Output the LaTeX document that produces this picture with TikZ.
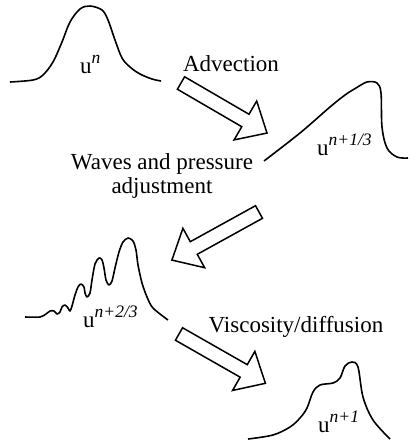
\documentclass[tikz,border=0pt]{standalone}
\usepackage{fontspec}
\setmainfont{Liberation Serif}
\usepackage{tikz}
\usetikzlibrary{calc}
\newcommand{\usup}[1]{u\raisebox{0.4em}{\fontsize{17.5}{18}\selectfont\itshape #1}}
\tikzset{
	curve/.style={line width=1.6pt, line join=round, smooth, tension=0.55},
	lbl/.style={font=\fontsize{23}{24}\selectfont, inner sep=0pt},
	blockarrow/.pic={
		\draw[line width=1.5pt, line join=miter] (0,7.2) -- (74.5,7.2) -- (74.5,22.5) -- (99.5,0)
			-- (74.5,-22.5) -- (74.5,-7.2) -- (0,-7.2) -- cycle;
	}
}

\begin{document}
\begin{tikzpicture}[x=1pt, y=-1pt]
		\useasboundingbox (0,0) rectangle (409,445);
		% the four profiles
		\draw[curve] plot coordinates {(10,82) (33,80) (43,75) (53,62) (62,42) (70,22) (80,9) (90,6) (102,10) (108,20) (115,40) (122,58) (130,67) (140,74) (152,79) (161,81)};
		\draw[curve] plot coordinates {(264,161) (300,133) (330,107) (345,95) (356,88) (367,82) (377,83) (381,93) (382,127) (387,148) (397,157) (408,158)};
		\draw[curve, tension=0.5] plot coordinates {(25,317) (40,317) (46,314) (50,311) (54,311) (57,314) (60,312) (62,307) (65,305) (68,308) (70,311) (72,306) (75,295) (78,287) (81,284) (84,287) (85,293) (87,297) (90,293) (92,280) (95,264) (99,258) (102,260) (104,268) (106,280) (109,285) (112,281) (115,268) (119,252) (123,242) (128,238) (133,241) (136,250) (138,265) (142,283) (147,297) (153,308) (168,320)};
		\draw[curve] plot coordinates {(248,439) (273,435) (290,427) (300,418) (307,408) (313,392) (320,385) (333,383) (340,378) (345,366) (352,362) (358,367) (363,397) (373,420) (390,439)};
		% labels
		\node[lbl, anchor=base west] (un) at (80,73) {\usup{n}};
		\node[lbl, anchor=base west] (un1) at (317,155) {\usup{n+1/3}};
		\node[lbl, anchor=base west] (un2) at (83,327) {\usup{n+2/3}};
		\node[lbl, anchor=base west] (un3) at (318,432) {\usup{n+1}};
		\node[lbl, anchor=base] (adv) at (231,71) {Advection};
		\node[lbl, anchor=base, align=center] (waves) at (162,193) {Waves and pressure\\adjustment};
		\node[lbl, anchor=base] (visc) at (296,332) {Viscosity/diffusion};
		% arrows
		\coordinate (advtail) at (181,83);
		\coordinate (wavtail) at (259,212);
		\coordinate (visctail) at (179,334);
		\pic[rotate=-30.2] at (advtail) {blockarrow};
		\pic[rotate=208.9] at (wavtail) {blockarrow};
		\pic[rotate=-29.7] at (visctail) {blockarrow};
	\end{tikzpicture}
\end{document}
